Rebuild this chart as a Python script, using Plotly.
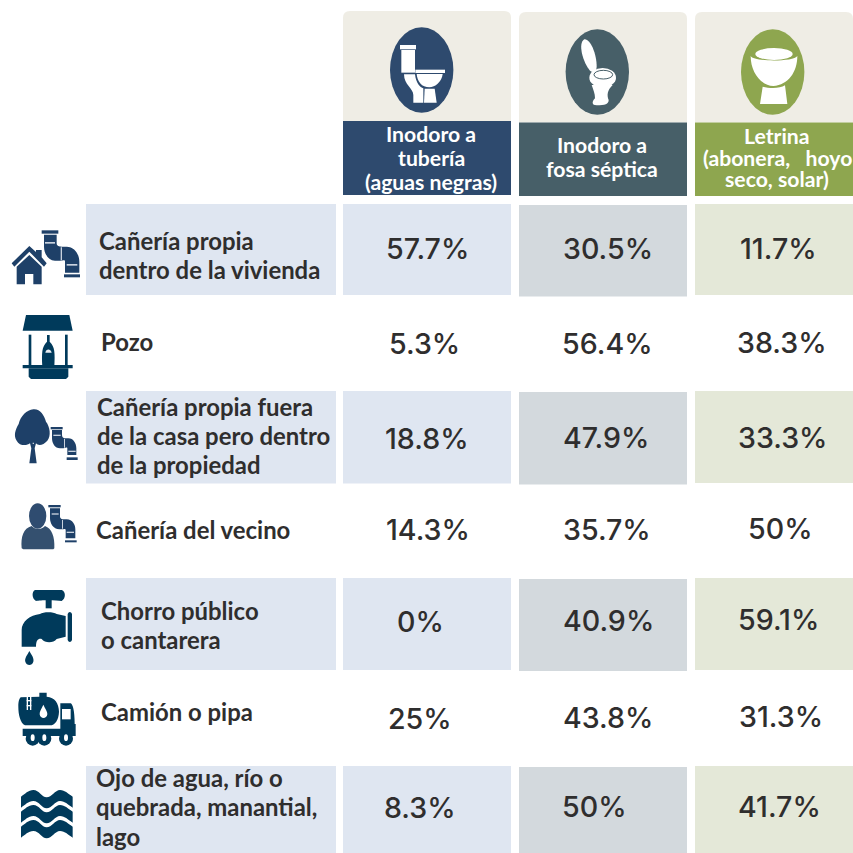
import re

import plotly.graph_objects as go

# ---- data ----
rows = [
    ["Cañería propia", "dentro de la vivienda"],
    ["Pozo"],
    ["Cañería propia fuera", "de la casa pero dentro", "de la propiedad"],
    ["Cañería del vecino"],
    ["Chorro público", "o cantarera"],
    ["Camión o pipa"],
    ["Ojo de agua, río o", "quebrada, manantial,", "lago"],
]
headers = [
    ["Inodoro a", "tubería", "(aguas negras)"],
    ["Inodoro a", "fosa séptica"],
    ["Letrina", "(abonera,\u00a0\u00a0\u00a0hoyo", "seco, solar)"],
]
tuberia = [57.7, 5.3, 18.8, 14.3, 0, 25, 8.3]
septica = [30.5, 56.4, 47.9, 35.7, 40.9, 43.8, 50]
letrina = [11.7, 38.3, 33.3, 50, 59.1, 31.3, 41.7]

# ---- layout of the table, in page pixels ----
col_x = [(343, 511), (519, 687), (695, 853)]
band_y = {
    0: [(204, 295), (391, 483.5), (578, 670), (766, 853)],
    1: [(205, 296.5), (392, 484.5), (579, 671), (767, 853)],
    2: [(204, 295), (391, 483), (578, 670), (766, 853)],
}
card_y = [(11, 121, 195), (12, 122.5, 196), (12, 122.5, 196)]
label_x = [99, 101, 97, 96, 101, 101, 96]
label_y = [[240, 269], [341], [406, 435, 464], [529], [610, 639], [711], [777, 806, 836]]
value_x = [
    [427, 424, 427, 428, 420, 420, 420],
    [608, 607, 606, 607, 608, 608, 594],
    [778, 782, 783, 780, 778, 781, 779],
]
value_y = [
    [248, 343, 438, 529, 621, 718, 807],
    [248, 343, 437, 529, 620, 717, 806],
    [248, 342, 437, 528, 619, 716, 806],
]
header_x = [431, 602, 777]
header_y = [[134, 158, 182], [145, 168.5], [136, 157.5, 179]]
ellipse = [(421.7, 70), (597.3, 72), (772.7, 72)]

NAVY = "#2e4a6e"
SLATE = "#475f68"
GREEN = "#8ea64f"
CARD = "#efede5"
BANDS = ["#dfe6f1", "#d3d9dd", "#e4e8d8"]
ICON = "#1e4068"
ICON_DARK = "#003a5b"
TEXT = "#2f2e2e"
LABEL_FONT = "Lato"
VALUE_FONT = "Inter"

shapes = []


def px(path, ox, oy):
    out, i = [], 0
    for tok in re.findall(r"[A-Z]|-?\d+\.?\d*", path):
        if tok.isalpha():
            out.append(tok)
            i = 0
        else:
            out.append(f"{float(tok) / 3 + (oy if i % 2 else ox):.2f}")
            i += 1
    return " ".join(out)


def rect(x0, y0, x1, y1):
    return f"M{x0} {y0} L{x1} {y0} L{x1} {y1} L{x0} {y1} Z"


def fill(path, color, ox=0, oy=0):
    shapes.append(dict(type="path", path=px(path, ox, oy), fillcolor=color, line=dict(width=0), layer="above"))


def box(x0, y0, x1, y1, color):
    shapes.append(dict(type="rect", x0=x0, x1=x1, y0=y0, y1=y1, fillcolor=color, line=dict(width=0), layer="above"))


def oval(cx, cy, rx, ry, color, line=None):
    shapes.append(dict(type="circle", x0=cx - rx, x1=cx + rx, y0=cy - ry, y1=cy + ry,
                       fillcolor=color, line=dict(width=0) if line is None else line, layer="above"))


# label column and value bands
for y0, y1 in band_y[0]:
    box(86, y0, 336, y1, BANDS[0])
for c, (x0, x1) in enumerate(col_x):
    for y0, y1 in band_y[c]:
        box(x0, y0, x1, y1, BANDS[c])

# header cards
for (x0, x1), (y0, y1, y2), col in zip(col_x, card_y, [NAVY, SLATE, GREEN]):
    r = 7
    shapes.append(dict(type="path", fillcolor=CARD, line=dict(width=0), layer="above",
                       path=f"M{x0} {y1} L{x0} {y0 + r} Q{x0} {y0} {x0 + r} {y0} L{x1 - r} {y0} "
                            f"Q{x1} {y0} {x1} {y0 + r} L{x1} {y1} Z"))
    box(x0, y1, x1, y2, col)
for (cx, cy), col in zip(ellipse, [NAVY, SLATE, GREEN]):
    oval(cx, cy, 31.7, 42.7, col)

# toilet 1
HX, HY = 340, 0
W = "#ffffff"
fill(rect(180, 135, 228, 148), W, HX, HY)
fill("M184 150 L225 150 L225 218 L184 218 Z", W, HX, HY)
fill(rect(226, 209, 315, 219), W, HX, HY)
fill("M192 223 L225 223 C228 250 240 262 250 265 L250 308 L220 308 L220 285 C220 265 192 255 192 223 Z", W, HX, HY)
fill("M230 222 L308 222 C306 245 285 262 268 262 C245 262 232 245 230 222 Z", W, HX, HY)
fill("M254 266 L284 266 L290 308 L252 308 Z", W, HX, HY)

# toilet 2
fill("M733 118 C750 115 770 160 770 200 C770 215 760 220 750 212 C730 190 712 130 733 118 Z", W, HX, HY)
oval(340 + 788 / 3, 233 / 3, 40 / 3, 29 / 3, W)
oval(340 + 790 / 3, 224 / 3, 28 / 3, 13 / 3, W, dict(color=SLATE, width=1))
fill("M755 255 L818 255 C802 270 800 285 806 300 C806 312 795 316 770 316 C755 316 755 305 765 295 "
     "C765 280 760 270 755 255 Z", W, HX, HY)

# latrine
fill("M1232 168 C1240 186 1362 186 1372 168 C1372 215 1345 255 1300 258 C1260 255 1232 215 1232 168 Z", W, HX, HY)
fill("M1268 260 C1290 266 1320 266 1335 256 L1342 312 L1260 312 Z", W, HX, HY)
oval(340 + 1302 / 3, 162 / 3, 56 / 3, 18 / 3, W)

# house and pipe
AX, AY = 0, 200
fill("M35 190 L88 138 L108 156 L108 150 L125 150 L125 172 L140 190 L132 200 L88 155 L43 200 Z", ICON, AX, AY)
fill("M50 200 L88 165 L125 200 L125 253 L100 253 L100 222 L75 222 L75 253 L50 253 Z", ICON, AX, AY)
fill(rect(125, 91, 175, 101), ICON, AX, AY)
fill("M132 104 L170 104 L170 130 C170 138 178 140 185 140 L200 140 C225 140 238 165 238 185 L238 218 L195 218 "
     "L195 185 C195 178 190 182 180 182 L165 182 C145 182 132 160 132 140 Z", ICON, AX, AY)
fill(rect(192, 223, 240, 232), ICON, AX, AY)
fill(rect(135, 126, 165, 131), "#c9d2de", AX, AY)
fill(rect(182, 142, 186, 180), "#c9d2de", AX, AY)
fill(rect(200, 192, 232, 197), "#c9d2de", AX, AY)

# well
fill("M78 345 L208 345 L218 392 L68 392 Z", ICON_DARK, AX, AY)
fill(rect(86, 404, 94, 500), ICON_DARK, AX, AY)
fill(rect(195, 404, 203, 500), ICON_DARK, AX, AY)
fill(rect(68, 495, 218, 505), ICON_DARK, AX, AY)
fill("M86 505 L205 505 L205 530 L198 537 L93 537 L86 530 Z", ICON_DARK, AX, AY)
fill("M141 405 L149 405 L149 425 C165 440 165 460 163 500 L127 500 C125 460 125 440 141 425 Z", ICON_DARK, AX, AY)
fill("M136 458 C138 445 152 445 155 458 Z", "#e8edf2", AX, AY)

# tree and pipe
fill("M100 628 C120 626 132 645 138 665 C150 680 154 708 142 722 C130 736 115 738 108 730 L104 745 L110 790 "
     "L88 790 L94 745 L90 730 C80 738 58 738 50 722 C40 708 46 688 56 672 C62 648 80 630 100 628 Z", ICON, AX, AY)
fill(rect(98, 728, 102, 732), "#c9d2de", AX, AY)
fill(rect(152, 681, 188, 688), ICON, AX, AY)
fill("M156 690 L186 690 L186 705 C186 712 190 715 198 715 L205 715 C220 715 229 730 229 745 L229 765 L202 765 "
     "L202 745 C202 740 198 745 190 745 L180 745 C165 745 156 730 156 715 Z", ICON, AX, AY)
fill(rect(200, 772, 233, 780), ICON, AX, AY)
fill(rect(160, 704, 182, 708), "#c9d2de", AX, AY)
fill(rect(192, 717, 195, 743), "#c9d2de", AX, AY)
fill(rect(205, 752, 227, 756), "#c9d2de", AX, AY)

# neighbour and pipe
BX, BY = 0, 490
oval(113 / 3, BY + 78 / 3, 26 / 3, 38 / 3, "#2f4c70")
fill("M65 175 C62 140 70 115 95 108 C105 120 125 120 135 108 C155 115 165 140 163 175 L160 178 L70 178 Z",
     "#34506f", BX, BY)
fill(rect(145, 45, 182, 52), ICON, BX, BY)
fill("M150 55 L180 55 L180 80 C180 85 185 88 192 88 L200 88 C218 88 226 105 226 118 L226 145 L197 145 L197 120 "
     "C197 115 190 118 185 118 L178 118 C160 118 150 100 150 85 Z", ICON, BX, BY)
fill(rect(195, 151, 230, 157), ICON, BX, BY)
fill(rect(155, 70, 176, 74), "#c9d2de", BX, BY)
fill(rect(186, 90, 189, 116), "#c9d2de", BX, BY)
fill(rect(200, 125, 222, 129), "#c9d2de", BX, BY)

# tap
fill("M105 300 L185 300 C198 305 198 325 185 333 C170 330 120 330 108 333 C95 325 95 305 105 300 Z",
     ICON_DARK, BX, BY)
fill(rect(137, 330, 155, 355), ICON_DARK, BX, BY)
fill("M65 470 L65 420 C65 395 90 375 120 372 C130 365 160 365 170 372 L197 378 L197 440 L170 447 "
     "C160 460 135 460 125 447 C115 445 108 450 108 470 Z", ICON_DARK, BX, BY)
fill("M203 372 C206 364 213 364 216 372 L216 450 C213 458 206 458 203 450 Z", ICON_DARK, BX, BY)
fill("M88 483 C95 495 103 505 100 515 C96 528 80 528 76 515 C73 505 82 495 88 483 Z", ICON_DARK, BX, BY)

# water truck
fill("M62 622 L118 620 L118 608 L140 608 L140 620 C165 622 176 640 177 665 C176 690 165 706 150 706 "
     "L75 706 C60 698 55 672 55 650 C55 635 57 628 62 622 Z", ICON_DARK, BX, BY)
fill(rect(80, 618, 84, 660), W, BX, BY)
fill(rect(90, 618, 94, 660), W, BX, BY)
fill(rect(80, 630, 94, 634), W, BX, BY)
fill(rect(80, 645, 94, 649), W, BX, BY)
fill("M130 644 C135 655 143 665 142 673 C140 688 121 688 119 673 C118 665 125 655 130 644 Z", W, BX, BY)
fill("M181 640 L212 640 C218 643 224 660 224 702 L227 702 L227 738 L68 738 L68 716 L181 716 Z", ICON_DARK, BX, BY)
fill(rect(186, 657, 212, 688), W, BX, BY)
for wx in [98, 133, 198]:
    oval(wx / 3, BY + 746 / 3, 21 / 3, 21 / 3, ICON_DARK)
    oval(wx / 3, BY + 743 / 3, 6 / 3, 10 / 3, W)

# water waves
WAVE = ("M63 920 C75 912 85 900 100 900 C118 900 125 922 140 922 C155 922 165 900 180 900 C195 900 205 912 218 920 "
        "L218 953 C205 945 195 933 180 933 C165 933 155 955 140 955 C125 955 118 933 100 933 C85 933 75 945 63 953 Z")
for shift in [0, 45, 90]:
    fill(WAVE, ICON_DARK, BX, BY + shift / 3)

# ---- text ----
annotations = []
for lx, ys, lines in zip(label_x, label_y, rows):
    for y, line in zip(ys, lines):
        annotations.append(dict(x=lx, y=y, text=line, xanchor="left", yanchor="middle", align="left",
                                showarrow=False, xref="x", yref="y", borderpad=0, borderwidth=0,
                                font=dict(family=LABEL_FONT, size=23.9, color=TEXT, weight=700)))
for cx, ys, lines in zip(header_x, header_y, headers):
    for y, line in zip(ys, lines):
        annotations.append(dict(x=cx, y=y, text=line, xanchor="center", yanchor="middle",
                                showarrow=False, xref="x", yref="y", borderpad=0, borderwidth=0,
                                font=dict(family=LABEL_FONT, size=21.2, color="#ffffff", weight=700)))
for xs, ys, series in zip(value_x, value_y, [tuberia, septica, letrina]):
    for x, y, v in zip(xs, ys, series):
        annotations.append(dict(x=x, y=y, text=f"{v:g}%", xanchor="center", yanchor="middle",
                                showarrow=False, xref="x", yref="y", borderpad=0, borderwidth=0,
                                font=dict(family=VALUE_FONT, size=28.6, color=TEXT, weight=450)))

fig = go.Figure()
fig.update_layout(
    width=853, height=853,
    margin=dict(l=0, r=0, t=0, b=0),
    paper_bgcolor="white", plot_bgcolor="white",
    showlegend=False,
    xaxis=dict(range=[0, 853], visible=False, fixedrange=True),
    yaxis=dict(range=[853, 0], visible=False, fixedrange=True),
    shapes=shapes,
    annotations=annotations,
)
fig.write_html("out.html", config=dict(displayModeBar=False),
               post_script="document.body.style.margin='0';document.body.style.overflow='hidden';")
